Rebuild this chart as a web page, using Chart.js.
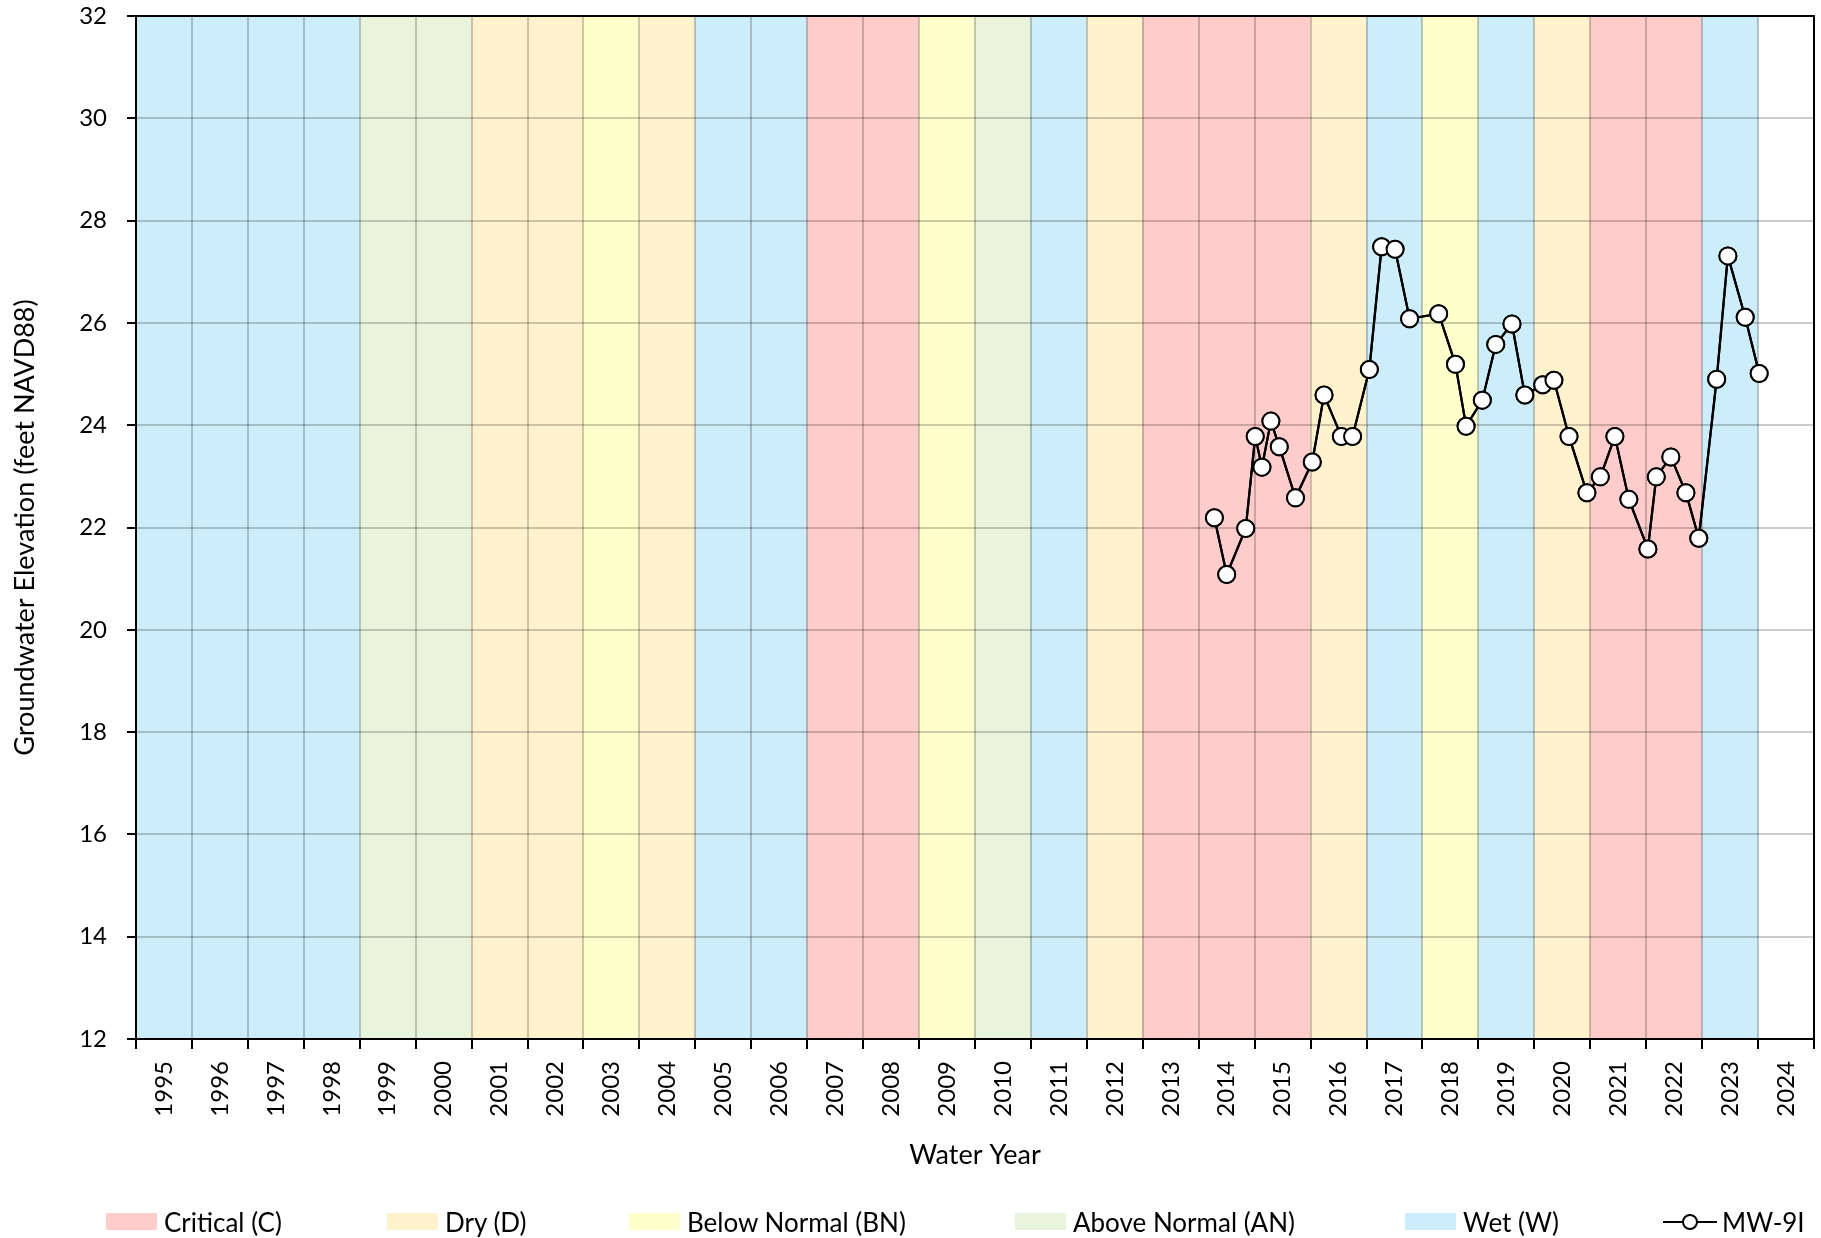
<!DOCTYPE html>
<html><head><meta charset="utf-8">
<script src="https://cdn.jsdelivr.net/npm/chart.js@4"></script>
<style>
html,body{margin:0;padding:0;background:#fff;}
#wrap{position:relative;width:1821px;height:1238px;font-family:Lato, sans-serif;overflow:hidden;}
#c{position:absolute;left:0;top:0;}
.lg{position:absolute;top:1213px;height:17px;width:51px;}
.lt{position:absolute;top:1222px;transform:translateY(-50%);font-size:26px;color:#000;white-space:nowrap;line-height:1;}
.ls{position:absolute;top:1212px;}
</style></head>
<body><div id="wrap"><canvas id="c" width="1821" height="1238"></canvas><div id="legend"></div></div>
<script>
// ---- data ----
const waterYears = ['1995','1996','1997','1998','1999','2000','2001','2002','2003','2004','2005','2006','2007','2008','2009','2010','2011','2012','2013','2014','2015','2016','2017','2018','2019','2020','2021','2022','2023','2024'];
const yearTypes  = ['W','W','W','W','AN','AN','D','D','BN','D','W','W','C','C','BN','AN','W','D','C','C','C','D','W','BN','W','D','C','C','W',''];
const typeOrder = ['C','D','BN','AN','W'];
const typeNames = {C:'Critical (C)', D:'Dry (D)', BN:'Below Normal (BN)', AN:'Above Normal (AN)', W:'Wet (W)'};
const typeColors = {C:'#FFCCCC', D:'#FFF2CC', BN:'#FFFFCC', AN:'#E9F4DD', W:'#CCEDF9'};
const seriesName = 'MW-9I';
// measurement dates as decimal calendar years
const measureDates = [2014.03,2014.25,2014.59,2014.76,2014.88,2015.04,2015.19,2015.48,2015.78,2015.99,2016.30,2016.50,2016.80,2017.02,2017.26,2017.52,2018.04,2018.34,2018.53,2018.82,2019.06,2019.35,2019.58,2019.90,2020.10,2020.37,2020.69,2020.93,2021.19,2021.44,2021.78,2021.93,2022.19,2022.46,2022.69,2023.01,2023.21,2023.52,2023.77];
const elevations   = [22.19,21.08,21.98,23.78,23.18,24.08,23.58,22.58,23.28,24.59,23.78,23.78,25.09,27.49,27.44,26.08,26.18,25.19,23.98,24.49,25.58,25.98,24.59,24.79,24.88,23.78,22.68,22.99,23.78,22.55,21.58,22.99,23.38,22.68,21.79,24.90,27.31,26.11,25.01];
const yMin = 12, yMax = 32, yStep = 2;
const dateMin = 1994.75, dateMax = 2024.75; // start of WY1995 .. end of WY2024

// ---- chart ----
const FONT = 'Lato, sans-serif';
const gridCol = 'rgba(0,0,0,0.2)';

const overlay = {
  id: 'overlay',
  afterDraw(chart) {
    const ctx = chart.ctx, a = chart.chartArea;
    // series drawn above the gridlines
    chart.getDatasetMeta(1).controller.draw();
    ctx.save();
    ctx.strokeStyle = '#000'; ctx.lineWidth = 2;
    ctx.strokeRect(a.left, a.top, a.right - a.left, a.bottom - a.top);
    ctx.restore();
  }
};

new Chart(document.getElementById('c'), {
  data: {
    labels: waterYears,
    datasets: [
      {
        type: 'bar', label: 'Water year type', order: 2, grouped: false,
        xAxisID: 'x', yAxisID: 'y',
        data: yearTypes.map(t => t ? [yMin, yMax] : null),
        backgroundColor: yearTypes.map(t => t ? typeColors[t] : 'rgba(0,0,0,0)'),
        borderWidth: 0, barPercentage: 1, categoryPercentage: 1
      },
      {
        type: 'line', label: seriesName, order: 1,
        xAxisID: 'xl', yAxisID: 'y',
        data: measureDates.map((d, i) => ({x: d, y: elevations[i]})),
        borderColor: '#000', borderWidth: 2.2, tension: 0,
        pointRadius: 8.5, pointBackgroundColor: '#fff', pointBorderColor: '#000', pointBorderWidth: 2
      }
    ]
  },
  options: {
    responsive: false, maintainAspectRatio: false, animation: false,
    layout: {autoPadding: false, padding: {left: 0, top: 16, right: 7, bottom: 67}},
    plugins: {legend: {display: false}, tooltip: {enabled: false}},
    scales: {
      x: {
        type: 'category', position: 'bottom', offset: true,
        grid: {offset: true, color: gridCol, lineWidth: 2, z: 1, tickColor: '#000', tickWidth: 2, tickLength: 10},
        border: {color: '#000', width: 2, z: 2},
        ticks: {autoSkip: false, minRotation: 90, maxRotation: 90, padding: 12, color: '#000', font: {family: FONT, size: 24}},
        title: {display: true, text: 'Water Year', color: '#000', padding: 0, font: {family: FONT, size: 27}},
        afterFit(s) { s.height = 132; s.paddingLeft = 0; s.paddingRight = 0; }
      },
      xl: {
        type: 'linear', position: 'bottom', display: false, min: dateMin, max: dateMax
      },
      y: {
        type: 'linear', min: yMin, max: yMax,
        grid: {color: gridCol, lineWidth: 2, z: 1, tickColor: '#000', tickWidth: 2, tickLength: 9},
        border: {color: '#000', width: 2, z: 2},
        ticks: {stepSize: yStep, padding: 20, color: '#000', font: {family: FONT, size: 24}},
        title: {display: true, text: 'Groundwater Elevation (feet NAVD88)', color: '#000', padding: {top: 9, bottom: 0}, font: {family: FONT, size: 27}},
        afterFit(s) { s.width = 136; s.paddingTop = 14; s.paddingBottom = 14; }
      }
    }
  },
  plugins: [overlay]
});

// ---- legend (HTML) ----
const legendLeft = [106, 387, 629, 1015, 1405];
const lg = document.getElementById('legend');
typeOrder.forEach((t, i) => {
  const b = document.createElement('div'); b.className = 'lg';
  b.style.left = legendLeft[i] + 'px'; b.style.background = typeColors[t];
  const s = document.createElement('div'); s.className = 'lt';
  s.style.left = (legendLeft[i] + 58) + 'px'; s.textContent = typeNames[t];
  lg.appendChild(b); lg.appendChild(s);
});
const sym = document.createElement('div'); sym.className = 'ls'; sym.style.left = '1663px';
sym.innerHTML = '<svg width="54" height="20"><line x1="0" y1="10" x2="54" y2="10" stroke="#000" stroke-width="2.2"/><circle cx="27" cy="10" r="7" fill="#fff" stroke="#000" stroke-width="2"/></svg>';
lg.appendChild(sym);
const st = document.createElement('div'); st.className = 'lt'; st.style.left = '1722px'; st.textContent = seriesName;
lg.appendChild(st);
</script>
</body></html>
